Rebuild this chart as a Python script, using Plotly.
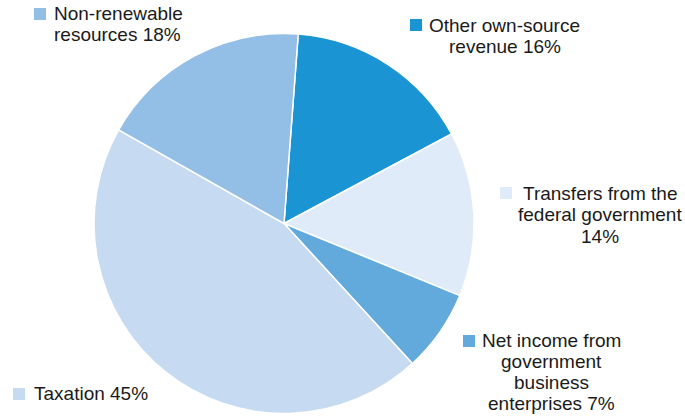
import plotly.graph_objects as go

W, H = 685, 419

categories = ["Other own-source revenue", "Transfers from the federal government",
              "Net income from government business enterprises", "Taxation",
              "Non-renewable resources"]
values = [16, 14, 7, 45, 18]
label_lines = [["Other own-source", "revenue 16%"],
               ["Transfers from the", "federal government", "14%"],
               ["Net income from", "government", "business", "enterprises 7%"],
               ["Taxation 45%"],
               ["Non-renewable", "resources 18%"]]
colors = ["#1A94D3", "#DFEBF8", "#62A9DC", "#C6DBF1", "#93BEE5"]

# label layout (pixel positions): text x, first line center y, xanchor, square left x, square top y
label_pos = [
    (504.5, 25.5, "center", 410, 19),
    (600, 193.5, "center", 500, 187),
    (551, 340, "center", 463, 335),
    (33, 393.5, "left", 13, 388),
    (53, 13.7, "left", 34, 8),
]
LINE = 21.3

cx, cy, r = 284, 223.5, 190


def px(x):
    return x / W


def py(y):
    return 1 - y / H


fig = go.Figure(go.Pie(
    labels=categories, values=values, sort=False, direction="clockwise",
    rotation=4.3, textinfo="none", hoverinfo="label+percent",
    marker=dict(colors=colors, line=dict(color="white", width=1.5)),
    domain=dict(x=[px(cx - r), px(cx + r)], y=[py(cy + r), py(cy - r)]),
    showlegend=False,
))

font = dict(family="Liberation Sans, Arial, sans-serif", size=19, color="#1a1a1a")
annotations, shapes = [], []
for lines, col, (tx, ty, xa, sx, sy) in zip(label_lines, colors, label_pos):
    for i, line in enumerate(lines):
        annotations.append(dict(x=px(tx), y=py(ty + i * LINE), xref="paper", yref="paper",
                                text=line, showarrow=False, xanchor=xa, yanchor="middle",
                                font=font, borderpad=0))
    shapes.append(dict(type="rect", xref="paper", yref="paper",
                       x0=px(sx), x1=px(sx + 12), y0=py(sy + 12), y1=py(sy),
                       fillcolor=col, line=dict(width=0)))

fig.update_layout(width=W, height=H, margin=dict(l=0, r=0, t=0, b=0),
                  paper_bgcolor="white", plot_bgcolor="white",
                  annotations=annotations, shapes=shapes)
fig.write_html("out.html", config={"displayModeBar": False},
               post_script="document.body.style.margin='0';document.body.style.overflow='hidden';")
